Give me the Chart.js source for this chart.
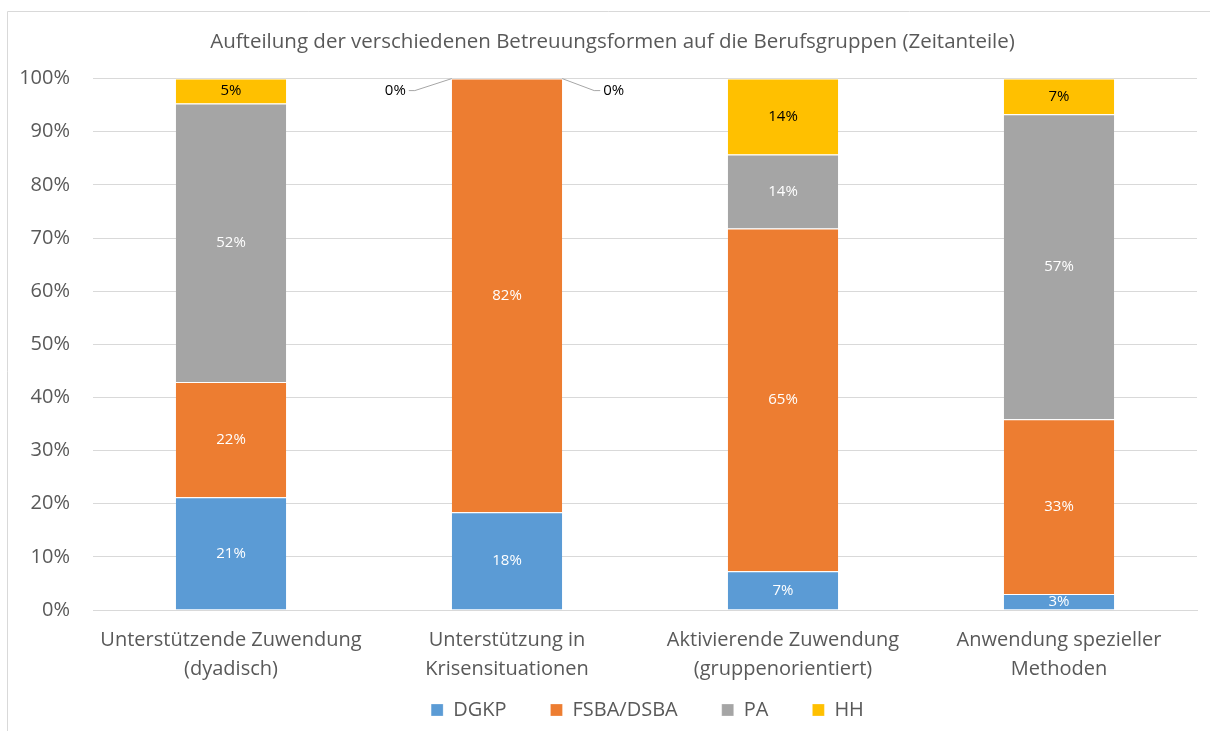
<!DOCTYPE html>
<html>
<head>
<meta charset="utf-8">
<script src="https://cdn.jsdelivr.net/npm/chart.js@4"></script>
<style>
  html, body { margin: 0; padding: 0; background: #fff; }
  #wrap { width: 1210px; height: 731px; }
</style>
</head>
<body>
<div id="wrap"><canvas id="barChart"></canvas></div>
<script>
const categories = [
  ["Unterstützende Zuwendung", "(dyadisch)"],
  ["Unterstützung in", "Krisensituationen"],
  ["Aktivierende Zuwendung", "(gruppenorientiert)"],
  ["Anwendung spezieller", "Methoden"],
];
const seriesNames = ["DGKP", "FSBA/DSBA", "PA", "HH"];
const dgkp = [21.2, 18.4, 7.3, 3.0];
const fsba = [21.7, 81.6, 64.5, 32.9];
const pa = [52.4, 0, 13.9, 57.4];
const hh = [4.7, 0, 14.3, 6.7];
const colors = ["#5b9bd5", "#ed7d31", "#a5a5a5", "#ffc000"];
const labelColors = ["#ffffff", "#ffffff", "#ffffff", "#000000"];
const yTicks = [0, 10, 20, 30, 40, 50, 60, 70, 80, 90, 100];

const FONT = "'Open Sans', 'Liberation Sans', sans-serif";
const TEXT = "#595959";

// frame line, and nudge title/legend so they sit like in the original
const framePlugin = {
  id: "frame",
  afterInit(chart) {
    const lg = chart.legend;
    if (lg && !lg._short) {
      const fit = lg.fit.bind(lg);
      lg.fit = function () {
        fit();
        this.height = 47;
      };
      lg._short = true;
    }
  },
  afterLayout(chart) {
    if (chart.titleBlock) {
      chart.titleBlock.left += 14;
      chart.titleBlock.right += 14;
    }
    if (chart.legend) {
      chart.legend.left += 49;
      chart.legend.right += 49;
      chart.legend.top -= 28;
      chart.legend.bottom = chart.height;
    }
  },
  beforeDraw(chart) {
    const ctx = chart.ctx;
    ctx.save();
    ctx.strokeStyle = "#d9d9d9";
    ctx.lineWidth = 1;
    ctx.beginPath();
    ctx.moveTo(7.5, chart.height);
    ctx.lineTo(7.5, 11.5);
    ctx.lineTo(chart.width, 11.5);
    ctx.stroke();
    ctx.restore();
  },
};

// value labels (no datalabels plugin offline)
const labelPlugin = {
  id: "valueLabels",
  afterDatasetsDraw(chart) {
    const ctx = chart.ctx;
    ctx.save();
    ctx.font = "15px " + FONT;
    ctx.textBaseline = "middle";
    chart.data.datasets.forEach((ds, di) => {
      const meta = chart.getDatasetMeta(di);
      meta.data.forEach((bar, i) => {
        const v = ds.data[i];
        const txt = Math.round(v) + "%";
        if (v > 0) {
          ctx.fillStyle = labelColors[di];
          ctx.textAlign = "center";
          ctx.fillText(txt, bar.x, (bar.y + bar.base) / 2);
        } else {
          // zero values: label outside with leader line
          const half = bar.width / 2;
          const left = di === 2;
          const x0 = left ? bar.x - half : bar.x + half;
          const y0 = bar.y;
          const x1 = left ? x0 - 37 : x0 + 32;
          const y1 = y0 + 12;
          ctx.strokeStyle = "#a6a6a6";
          ctx.lineWidth = 1;
          ctx.beginPath();
          ctx.moveTo(x0, y0);
          ctx.lineTo(x1, y1);
          ctx.lineTo(left ? x1 - 6 : x1 + 6, y1);
          ctx.stroke();
          ctx.fillStyle = "#000000";
          ctx.textAlign = left ? "right" : "left";
          ctx.fillText(txt, left ? x1 - 9 : x1 + 9, y1);
        }
      });
    });
    ctx.restore();
  },
};

const datasets = [dgkp, fsba, pa, hh].map((d, i) => ({
  label: seriesNames[i],
  data: d,
  backgroundColor: colors[i],
  borderColor: "#ffffff",
  borderWidth: { top: 1, bottom: 0, left: 0, right: 0 },
  borderSkipped: false,
  categoryPercentage: 1,
  barPercentage: 0.4,
}));

new Chart(document.getElementById("barChart"), {
  type: "bar",
  data: { labels: categories, datasets: datasets },
  plugins: [framePlugin, labelPlugin],
  options: {
    responsive: true,
    maintainAspectRatio: false,
    animation: false,
    layout: { padding: { top: 0, left: 0, right: 13, bottom: 0 } },
    plugins: {
      title: {
        display: true,
        text: "Aufteilung der verschiedenen Betreuungsformen auf die Berufsgruppen (Zeitanteile)",
        color: TEXT,
        font: { family: FONT, size: 20.5, weight: "normal" },
        padding: { top: 30, bottom: 24 },
      },
      legend: {
        position: "bottom",
        labels: {
          color: TEXT,
          font: { family: FONT, size: 20 },
          boxWidth: 12,
          boxHeight: 12,
          padding: 44,
        },
      },
      tooltip: { enabled: false },
    },
    scales: {
      x: {
        stacked: true,
        grid: { display: false },
        border: { color: "#d9d9d9" },
        afterFit(scale) {
          scale.height = 74;
        },
        ticks: {
          color: TEXT,
          font: { family: FONT, size: 20, lineHeight: 1.45 },
          maxRotation: 0,
          padding: 8,
        },
      },
      y: {
        stacked: true,
        min: 0,
        max: 100,
        afterBuildTicks(scale) {
          scale.ticks = yTicks.map((v) => ({ value: v }));
        },
        afterFit(scale) {
          scale.width = 93;
        },
        grid: { color: "#d9d9d9", drawTicks: false },
        border: { display: false },
        ticks: {
          color: TEXT,
          font: { family: FONT, size: 20 },
          padding: 23,
          callback: (v) => v + "%",
        },
      },
    },
  },
});
</script>
</body>
</html>
